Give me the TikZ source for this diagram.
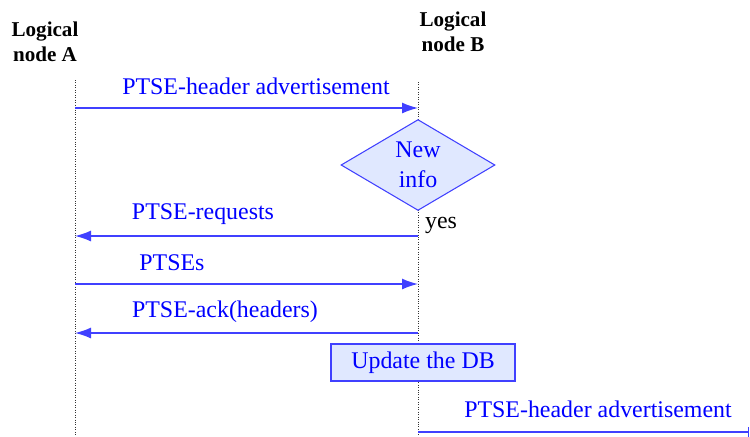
\documentclass[tikz,border=0pt]{standalone}
\usepackage{fontspec}
\setmainfont{Liberation Serif}
\usepackage{tikz}
\usetikzlibrary{arrows.meta,shapes.geometric}

\definecolor{msgblue}{RGB}{64,64,255}
\definecolor{txtblue}{RGB}{0,0,255}
\definecolor{boxfill}{RGB}{224,232,255}

\tikzset{
  lifeline/.style={densely dotted, thin, black!80},
  msg/.style={msgblue, line width=0.8pt, -{Latex[length=3.2mm,width=2.2mm]}},
  msglabel/.style={txtblue, font=\fontsize{13.6}{15}\selectfont, inner sep=0pt},
  actor/.style={font=\bfseries\fontsize{12}{14.2}\selectfont, align=center, inner sep=0pt},
}

\begin{document}
\begin{tikzpicture}[x=0.2mm, y=-0.2mm]
  \useasboundingbox (0,0) rectangle (750,436);

  \node[actor] (nodeA) at (45,42) {Logical\\node A};
  \node[actor] (nodeB) at (453,32) {Logical\\node B};

  \coordinate (aTop) at (75,80);
  \coordinate (aBot) at (75,436);
  \coordinate (bTop) at (418,82);
  \coordinate (bBot) at (418,436);
  \draw[lifeline] (aTop) -- (aBot);
  \draw[lifeline] (bTop) -- (bBot);

  \coordinate (a1) at (75,108);  \coordinate (b1) at (418,108);
  \coordinate (a2) at (75,236);  \coordinate (b2) at (418,236);
  \coordinate (a3) at (75,284);  \coordinate (b3) at (418,284);
  \coordinate (a4) at (75,333);  \coordinate (b4) at (418,333);
  \coordinate (b5) at (418,432); \coordinate (out5) at (749,432);

  \draw[msg] (a1) -- (b1);
  \node[msglabel] (adv1) at (256,86) {PTSE-header advertisement};

  \node[diamond, draw=msgblue, fill=boxfill, line width=0.6pt, inner sep=0pt,
        minimum width=30.8mm, minimum height=17mm, align=center,
        font=\fontsize{13.6}{17}\selectfont, text=txtblue] (newinfo) at (418,165) {New\\info};
  \node[font=\fontsize{13.6}{15}\selectfont, inner sep=0pt] (yes) at (441,225) {yes};

  \draw[msg] (b2) -- (a2);
  \node[msglabel] (req) at (203,214) {PTSE-requests};

  \draw[msg] (a3) -- (b3);
  \node[msglabel] (ptses) at (172,263) {PTSEs};

  \draw[msg] (b4) -- (a4);
  \node[msglabel] (ack) at (225,312) {PTSE-ack(headers)};

  \node[draw=msgblue, fill=boxfill, line width=0.6pt, minimum width=36.8mm,
        minimum height=7.4mm, inner sep=0pt, text=txtblue,
        font=\fontsize{13.6}{15}\selectfont] (update) at (423,362.5) {Update the DB};

  \draw[msgblue, line width=0.8pt, -{Bar[width=2mm]}] (b5) -- (out5);
  \node[msglabel] (adv2) at (598,409) {PTSE-header advertisement};
\end{tikzpicture}
\end{document}
